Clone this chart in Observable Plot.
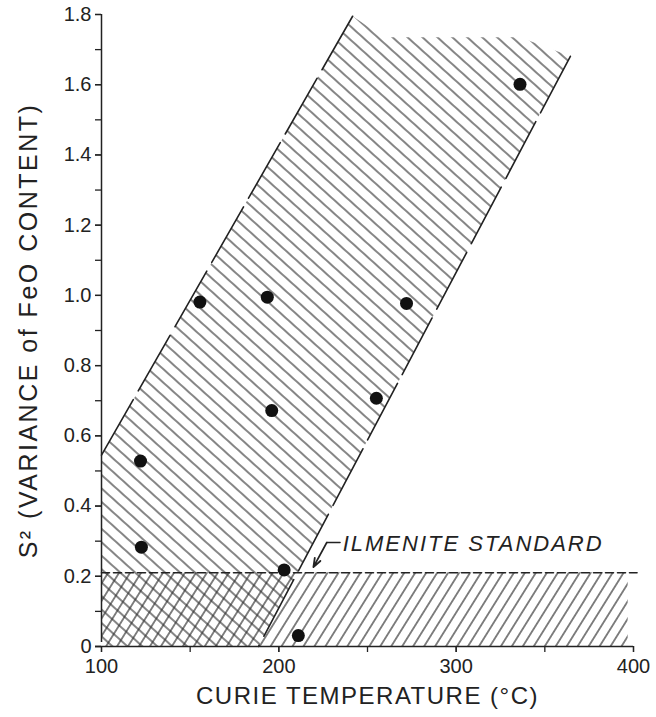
<!DOCTYPE html>
<html>
<head>
<meta charset="utf-8">
<script src="https://cdn.jsdelivr.net/npm/d3@7"></script>
<script src="https://cdn.jsdelivr.net/npm/@observablehq/plot@0.6"></script>
<style>
  html, body { margin: 0; padding: 0; background: #fff; }
</style>
</head>
<body>
<div id="chart"></div>
<script>
// Measured samples
const curieTemp = [122, 122.5, 155.5, 193.5, 196, 203, 211, 255, 272, 336];
const variance  = [0.528, 0.283, 0.981, 0.995, 0.672, 0.218, 0.031, 0.707, 0.977, 1.601];

// Hatched band (outline vertices)
const bandTemp = [100, 100, 241.6, 259.3, 336, 364.4, 188.5];
const bandVar  = [0, 0.545, 1.795, 1.735, 1.735, 1.681, 0];

// Band edges (drawn lines)
const leftEdgeTemp = [100, 241.6];
const leftEdgeVar  = [0.545, 1.795];
const rightEdgeTemp = [364.4, 188.5];
const rightEdgeVar  = [1.681, 0];

// Ilmenite standard
const ilmeniteValue = 0.21;
const ilmeniteLineTemp = [100, 402];
const ilmeniteRectTemp = [100, 397];
const ilmeniteLabel = "ILMENITE STANDARD";
const labelPos = {x: 236, y: 0.293};
const leaderTemp = [234.5, 227];
const leaderVar = [0.296, 0.296];
const arrowFrom = {x: 227, y: 0.296};
const arrowTo = {x: 219.5, y: 0.226};

// Axes
const xTickLabels = [100, 200, 300, 400];
const xTicksAll = [100, 150, 200, 250, 300, 350, 400];
const yTickLabels = [0, 0.2, 0.4, 0.6, 0.8, 1.0, 1.2, 1.4, 1.6, 1.8];
const yTicksAll = [0, 0.1, 0.2, 0.3, 0.4, 0.5, 0.6, 0.7, 0.8, 0.9, 1.0, 1.1, 1.2, 1.3, 1.4, 1.5, 1.6, 1.7, 1.8];
const xTitle = "CURIE TEMPERATURE (°C)";
const yTitle = "S² (VARIANCE of FeO CONTENT)";

const points = curieTemp.map((t, i) => ({t, v: variance[i]}));
const band = bandTemp.map((t, i) => ({t, v: bandVar[i]}));
const leftEdge = leftEdgeTemp.map((t, i) => ({t, v: leftEdgeVar[i]}));
const rightEdge = rightEdgeTemp.map((t, i) => ({t, v: rightEdgeVar[i]}));
const leader = leaderTemp.map((t, i) => ({t, v: leaderVar[i]}));

const ink = "#222";
const font = "'Liberation Sans', Arial, sans-serif";

const svg = Plot.plot({
  width: 656,
  height: 717,
  marginLeft: 101,
  marginRight: 23,
  marginTop: 14,
  marginBottom: 71,
  style: {fontFamily: font, fontSize: "20px", color: ink, background: "#fff"},
  x: {domain: [100, 400]},
  y: {domain: [0, 1.8]},
  marks: [
    // hatched regions
    Plot.rect([0], {x1: ilmeniteRectTemp[0], x2: ilmeniteRectTemp[1], y1: 0, y2: ilmeniteValue, fill: "url(#hatchUp)"}),
    Plot.line(band, {x: "t", y: "v", fill: "url(#hatchDown)", stroke: "none"}),
    // band edges
    Plot.line(leftEdge, {x: "t", y: "v", stroke: ink, strokeWidth: 1.6, strokeDasharray: "64,10"}),
    Plot.line(rightEdge, {x: "t", y: "v", stroke: ink, strokeWidth: 1.6, strokeDasharray: "64,10"}),
    // ilmenite standard dashed line
    Plot.line(ilmeniteLineTemp.map(t => ({t, v: ilmeniteValue})), {x: "t", y: "v", stroke: ink, strokeWidth: 1.6, strokeDasharray: "8,4"}),
    // axes
    Plot.ruleX([100], {y1: 0, y2: 1.8, stroke: ink, strokeWidth: 1.5, insetTop: -4}),
    Plot.ruleY([0], {x1: 100, x2: 400, stroke: ink, strokeWidth: 1.5, insetLeft: -6}),
    Plot.axisY(yTicksAll, {tickSize: 6, tickFormat: () => "", label: null, stroke: ink, strokeWidth: 1.3}),
    Plot.axisY(yTickLabels, {tickSize: 6, tickPadding: 4, tickFormat: d => d === 0 ? "0" : d.toFixed(1), label: null, stroke: ink, strokeWidth: 1.3, fill: ink}),
    Plot.axisX(xTicksAll, {tickSize: 6, tickFormat: () => "", label: null, stroke: ink, strokeWidth: 1.3}),
    Plot.axisX(xTickLabels, {tickSize: 6, tickPadding: 6, tickFormat: d => String(d), label: null, stroke: ink, strokeWidth: 1.3, fill: ink}),
    // points
    Plot.dot(points, {x: "t", y: "v", r: 6.5, fill: "#111", stroke: "none"}),
    // ilmenite label and leader
    Plot.line(leader, {x: "t", y: "v", stroke: ink, strokeWidth: 1.6}),
    Plot.arrow([0], {x1: arrowFrom.x, y1: arrowFrom.y, x2: arrowTo.x, y2: arrowTo.y, stroke: ink, strokeWidth: 1.8, headLength: 9, headAngle: 40}),
    Plot.text([ilmeniteLabel], {x: labelPos.x, y: labelPos.y, text: d => d, textAnchor: "start", fontSize: 22, fontStyle: "italic", fill: ink}),
    // titles
    Plot.text([xTitle], {frameAnchor: "bottom", textAnchor: "middle", dy: 57, text: d => d, fontSize: 24, fill: ink}),
    Plot.text([yTitle], {frameAnchor: "left", textAnchor: "middle", dx: -73, rotate: -90, text: d => d, fontSize: 25, fill: ink})
  ]
});

svg.insertAdjacentHTML("afterbegin", `
<defs>
  <pattern id="hatchDown" patternUnits="userSpaceOnUse" width="20" height="10" patternTransform="rotate(42)">
    <line x1="0" y1="5" x2="20" y2="5" stroke="#333" stroke-width="1.2"/>
  </pattern>
  <pattern id="hatchUp" patternUnits="userSpaceOnUse" width="20" height="9.3" patternTransform="rotate(-58)">
    <line x1="0" y1="4.65" x2="20" y2="4.65" stroke="#333" stroke-width="1.2"/>
  </pattern>
</defs>`);

// letter spacing on labels
svg.querySelectorAll("text").forEach(t => {
  if (t.textContent === ilmeniteLabel) t.setAttribute("letter-spacing", "2");
  if (t.textContent === xTitle) t.setAttribute("letter-spacing", "1.5");
  if (t.textContent === yTitle) t.setAttribute("letter-spacing", "2.5");
});

document.getElementById("chart").appendChild(svg);
</script>
</body>
</html>
